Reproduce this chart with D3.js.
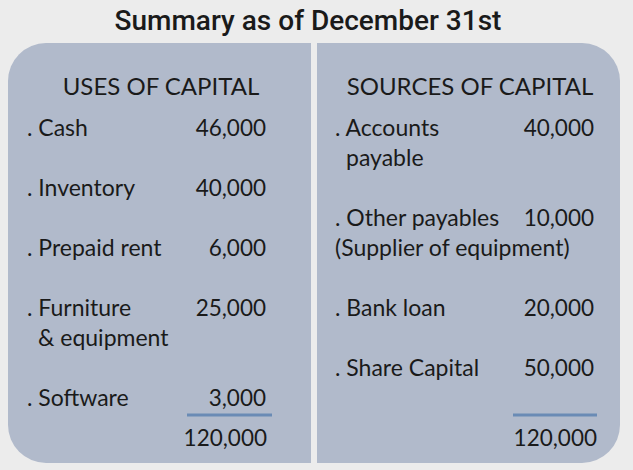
<!DOCTYPE html>
<html>
<head>
<meta charset="utf-8">
<script src="https://cdn.jsdelivr.net/npm/d3@7"></script>
<style>
  html, body { margin: 0; padding: 0; background: #ececec; }
  svg { display: block; }
  .body-text { font-family: Lato, "Open Sans", sans-serif; fill: #1a1a1a; }
</style>
</head>
<body>
<svg id="summary" width="633" height="470"></svg>
<script>
'use strict';

// Data
const title = 'Summary as of December 31st';
const usesHeader = 'USES OF CAPITAL';
const sourcesHeader = 'SOURCES OF CAPITAL';

const usesLabels = [['. Cash'], ['. Inventory'], ['. Prepaid rent'], ['. Furniture', '& equipment'], ['. Software']];
const usesValues = [46000, 40000, 6000, 25000, 3000];

const sourcesLabels = [['. Accounts', 'payable'], ['. Other payables', '(Supplier of equipment)'], ['. Bank loan'], ['. Share Capital']];
const sourcesValues = [40000, 10000, 20000, 50000];

(function () {

    const svg = d3.select('#summary');
    const fmt = d3.format(',');

    // Title
    svg.append('text')
        .attr('x', 308)
        .attr('y', 30)
        .attr('text-anchor', 'middle')
        .style('font-family', 'Roboto, sans-serif')
        .style('font-weight', 500)
        .style('font-size', '28px')
        .style('fill', '#1a1a1a')
        .text(title);

    // Panel background
    svg.append('rect')
        .attr('x', 8)
        .attr('y', 43)
        .attr('width', 612)
        .attr('height', 420)
        .attr('rx', 38)
        .style('fill', '#b1bacb');

    // Divider
    svg.append('rect')
        .attr('x', 311)
        .attr('y', 40)
        .attr('width', 6)
        .attr('height', 426)
        .style('fill', '#ececec');

    // Line index -> baseline
    const scY = d3.scaleLinear()
        .domain([0, 10])
        .range([136, 436]);

    const columns = [
        {header: usesHeader, labels: usesLabels, values: usesValues,
         headerX: 161, labelX: 27, valueX: 266, totalX: 267, lineX: [187, 272]},
        {header: sourcesHeader, labels: sourcesLabels, values: sourcesValues,
         headerX: 470, labelX: 335, valueX: 594, totalX: 597, lineX: [513, 597]}
    ];

    columns.forEach(function (col) {

        const g = svg.append('g').attr('class', 'column');

        g.append('text')
            .attr('class', 'body-text')
            .attr('x', col.headerX)
            .attr('y', 95)
            .attr('text-anchor', 'middle')
            .style('font-size', '24px')
            .text(col.header);

        // Work out starting line of each item
        let line = 0;
        const rows = col.labels.map(function (lab, i) {
            const r = {lines: lab, value: col.values[i], start: line};
            line += lab.length + 1;
            return r;
        });

        const row = g.selectAll('.row')
            .data(rows)
            .enter()
            .append('g')
                .attr('class', 'row');

        row.selectAll('.label')
            .data(function (d) { return d.lines.map(function (t, j) { return {t: t, line: d.start + j, j: j}; }); })
            .enter()
            .append('text')
                .attr('class', 'label body-text')
                .attr('x', function (d) {
                    // continuation lines indent past the bullet, except bracketed notes
                    if (d.j === 0 || d.t.charAt(0) === '(') return col.labelX;
                    return col.labelX + 11;
                })
                .attr('y', function (d) { return scY(d.line); })
                .style('font-size', '23px')
                .text(function (d) { return d.t; });

        row.append('text')
            .attr('class', 'value body-text')
            .attr('x', col.valueX)
            .attr('y', function (d) { return scY(d.start); })
            .attr('text-anchor', 'end')
            .style('font-size', '22.5px')
            .text(function (d) { return fmt(d.value); });

        // Underline and total
        g.append('line')
            .attr('x1', col.lineX[0])
            .attr('x2', col.lineX[1])
            .attr('y1', 415)
            .attr('y2', 415)
            .style('stroke', '#6a8bb5')
            .style('stroke-width', 3);

        g.append('text')
            .attr('class', 'body-text')
            .attr('x', col.totalX)
            .attr('y', scY(10.33))
            .attr('text-anchor', 'end')
            .style('font-size', '22.5px')
            .text(fmt(d3.sum(col.values)));
    });

})();
</script>
</body>
</html>
